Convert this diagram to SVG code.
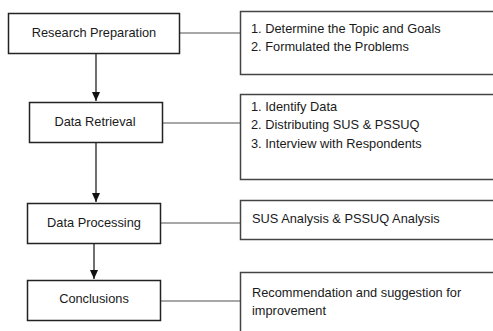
<svg xmlns="http://www.w3.org/2000/svg" width="493" height="331" viewBox="0 0 493 331">
<defs>
<style>
.box{fill:#fff;stroke:#222;stroke-width:1.5}
.side{fill:#fff;stroke:#444;stroke-width:1.5}
.t{font-family:"Liberation Sans",Arial,sans-serif;font-size:12.8px;fill:#1a1a1a}
.c{text-anchor:middle}
.link{stroke:#8a8a8a;stroke-width:1.5;fill:none}
.arrow{stroke:#222;stroke-width:1.3;fill:none;marker-end:url(#ah)}
</style>
<marker id="ah" markerWidth="9" markerHeight="8" refX="9" refY="4" orient="auto" markerUnits="userSpaceOnUse" viewBox="0 0 9 8">
<path d="M0,0 L9,4 L0,8 Z" fill="#111"/>
</marker>
</defs>
<rect width="493" height="331" fill="#fff"/>
<g id="connectors">
<line class="link" x1="179" y1="33" x2="240" y2="33"/>
<line class="link" x1="162" y1="123" x2="240" y2="123"/>
<line class="link" x1="160" y1="223" x2="240" y2="223"/>
<line class="link" x1="160" y1="301" x2="240" y2="301"/>
<path class="arrow" d="M96,53 V101"/>
<path class="arrow" d="M96,142 V202"/>
<path class="arrow" d="M94,243 V279"/>
</g>
<g id="research-preparation">
<rect class="box" x="8.5" y="13.5" width="171" height="40"/>
<text class="t c" x="94" y="37">Research Preparation</text>
</g>
<g id="data-retrieval">
<rect class="box" x="29.5" y="102.5" width="133" height="40"/>
<text class="t c" x="95" y="126">Data Retrieval</text>
</g>
<g id="data-processing">
<rect class="box" x="27.5" y="203.5" width="133" height="40"/>
<text class="t c" x="94" y="227">Data Processing</text>
</g>
<g id="conclusions">
<rect class="box" x="27.5" y="280.5" width="133" height="40"/>
<text class="t c" x="94" y="303">Conclusions</text>
</g>
<g id="goals">
<rect class="side" x="240.5" y="11.5" width="260" height="63"/>
<text class="t" x="251" y="33">1. Determine the Topic and Goals</text>
<text class="t" x="251" y="51">2. Formulated the Problems</text>
</g>
<g id="retrieval-steps">
<rect class="side" x="240.5" y="94.5" width="260" height="85"/>
<text class="t" x="251" y="111">1. Identify Data</text>
<text class="t" x="251" y="129">2. Distributing SUS &amp; PSSUQ</text>
<text class="t" x="251" y="148">3. Interview with Respondents</text>
</g>
<g id="analysis">
<rect class="side" x="240.5" y="200.5" width="260" height="39"/>
<text class="t" x="252" y="223">SUS Analysis &amp; PSSUQ Analysis</text>
</g>
<g id="recommendation">
<rect class="side" x="240.5" y="272.5" width="260" height="70"/>
<text class="t" x="252" y="297">Recommendation and suggestion for</text>
<text class="t" x="252" y="315">improvement</text>
</g>
</svg>
